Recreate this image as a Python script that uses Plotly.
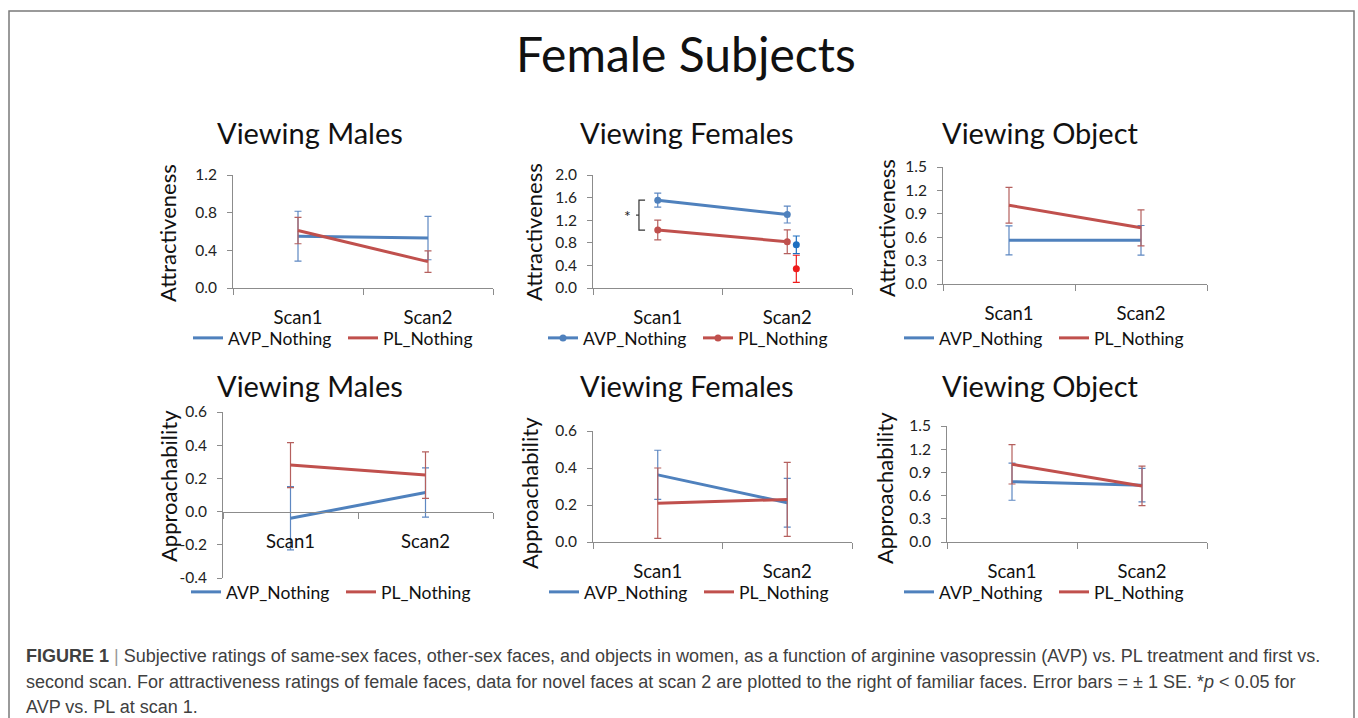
import plotly.graph_objects as go

W, H = 1358, 718

# ---------------- data ----------------
SCANS = ["Scan1", "Scan2"]
SERIES = ["AVP_Nothing", "PL_Nothing"]

# Attractiveness - viewing males
attr_males_avp = [0.55, 0.53]
attr_males_avp_se = [0.265, 0.23]
attr_males_pl = [0.61, 0.28]
attr_males_pl_se = [0.14, 0.115]

# Attractiveness - viewing females (familiar)
attr_fem_avp = [1.555, 1.30]
attr_fem_avp_se = [0.125, 0.15]
attr_fem_pl = [1.025, 0.82]
attr_fem_pl_se = [0.175, 0.21]
# novel faces at scan 2
attr_fem_novel_avp = [0.765]
attr_fem_novel_avp_se = [0.155]
attr_fem_novel_pl = [0.34]
attr_fem_novel_pl_se = [0.24]

# Attractiveness - viewing object
attr_obj_avp = [0.56, 0.56]
attr_obj_avp_se = [0.186, 0.19]
attr_obj_pl = [1.01, 0.72]
attr_obj_pl_se = [0.23, 0.23]

# Approachability - viewing males
appr_males_avp = [-0.04, 0.115]
appr_males_avp_se = [0.19, 0.148]
appr_males_pl = [0.28, 0.22]
appr_males_pl_se = [0.136, 0.14]

# Approachability - viewing females
appr_fem_avp = [0.363, 0.212]
appr_fem_avp_se = [0.133, 0.132]
appr_fem_pl = [0.21, 0.23]
appr_fem_pl_se = [0.19, 0.20]

# Approachability - viewing object
appr_obj_avp = [0.78, 0.735]
appr_obj_avp_se = [0.24, 0.216]
appr_obj_pl = [1.005, 0.725]
appr_obj_pl_se = [0.255, 0.255]

# y-axis tick values
ticks_attr_males = [0.0, 0.4, 0.8, 1.2]
ticks_attr_fem = [0.0, 0.4, 0.8, 1.2, 1.6, 2.0]
ticks_attr_obj = [0.0, 0.3, 0.6, 0.9, 1.2, 1.5]
ticks_appr_males = [-0.4, -0.2, 0.0, 0.2, 0.4, 0.6]
ticks_appr_fem = [0.0, 0.2, 0.4, 0.6]
ticks_appr_obj = [0.0, 0.3, 0.6, 0.9, 1.2, 1.5]

MAIN_TITLE = "Female Subjects"
CAPTION_LINES = [
    "<b>FIGURE 1</b> <span style='color:#999'>|</span> Subjective ratings of same-sex faces, other-sex faces, and objects in women, as a function of arginine vasopressin (AVP) vs. PL treatment and first vs.",
    "second scan. For attractiveness ratings of female faces, data for novel faces at scan 2 are plotted to the right of familiar faces. Error bars = ± 1 SE. *<i>p</i> &lt; 0.05 for",
    "AVP vs. PL at scan 1.",
]

# ---------------- style / layout ----------------
FONT = "Lato, 'Open Sans', sans-serif"
BLUE = "#4F81BD"
RED = "#C0504D"
BLUE_ERR = "#5E88C2"
RED_ERR = "#B5605E"
NOVEL_BLUE = "#1F6FC0"
NOVEL_RED = "#EE1C1C"
AXIS_GRAY = "#8C8C8C"
NOVEL_OFFSET = 0.07


def px_x(x):
    return x / W


def px_y(y):
    return 1 - y / H


panels = [
    dict(title="Viewing Males", ytitle="Attractiveness", x0=233, x1=493, yt=175, yb=288,
         ticks=ticks_attr_males, avp=attr_males_avp, avp_se=attr_males_avp_se,
         pl=attr_males_pl, pl_se=attr_males_pl_se, markers=False,
         tx=310, ty=133, ax=167, ay=233, lx=188, ly=338),
    dict(title="Viewing Females", ytitle="Attractiveness", x0=593, x1=852, yt=175, yb=288,
         ticks=ticks_attr_fem, avp=attr_fem_avp, avp_se=attr_fem_avp_se,
         pl=attr_fem_pl, pl_se=attr_fem_pl_se, markers=True,
         tx=687, ty=133, ax=533, ay=232, lx=543, ly=338),
    dict(title="Viewing Object", ytitle="Attractiveness", x0=943, x1=1207, yt=167, yb=284,
         ticks=ticks_attr_obj, avp=attr_obj_avp, avp_se=attr_obj_avp_se,
         pl=attr_obj_pl, pl_se=attr_obj_pl_se, markers=False,
         tx=1040, ty=133, ax=887, ay=228, lx=899, ly=338),
    dict(title="Viewing Males", ytitle="Approachability", x0=223, x1=493, yt=412, yb=578,
         ticks=ticks_appr_males, avp=appr_males_avp, avp_se=appr_males_avp_se,
         pl=appr_males_pl, pl_se=appr_males_pl_se, markers=False,
         tx=310, ty=385, ax=168, ay=486, lx=186, ly=592),
    dict(title="Viewing Females", ytitle="Approachability", x0=593, x1=852, yt=431, yb=542,
         ticks=ticks_appr_fem, avp=appr_fem_avp, avp_se=appr_fem_avp_se,
         pl=appr_fem_pl, pl_se=appr_fem_pl_se, markers=False,
         tx=687, ty=385, ax=530, ay=493, lx=544, ly=592),
    dict(title="Viewing Object", ytitle="Approachability", x0=947, x1=1207, yt=426, yb=542,
         ticks=ticks_appr_obj, avp=appr_obj_avp, avp_se=appr_obj_avp_se,
         pl=appr_obj_pl, pl_se=appr_obj_pl_se, markers=False,
         tx=1040, ty=385, ax=885, ay=488, lx=899, ly=592),
]

fig = go.Figure()
annotations = []
layout_axes = {}
xs = list(range(len(SCANS)))

for i, p in enumerate(panels, start=1):
    sfx = "" if i == 1 else str(i)
    xref, yref = f"x{sfx}", f"y{sfx}"
    leg = f"legend{sfx}"
    mode = "lines+markers" if p["markers"] else "lines"
    for name, vals, se, col, ecol in [
        (SERIES[0], p["avp"], p["avp_se"], BLUE, BLUE_ERR),
        (SERIES[1], p["pl"], p["pl_se"], RED, RED_ERR),
    ]:
        fig.add_trace(go.Scatter(
            x=xs, y=vals, mode=mode, name=name, xaxis=xref, yaxis=yref, legend=leg,
            line=dict(color=col, width=3), marker=dict(size=7, color=col),
            error_y=dict(type="data", array=se, visible=True, color=ecol, thickness=1.2, width=3.5),
            hoverinfo="skip",
        ))
    if i == 2:
        for vals, se, col in [
            (attr_fem_novel_avp, attr_fem_novel_avp_se, NOVEL_BLUE),
            (attr_fem_novel_pl, attr_fem_novel_pl_se, NOVEL_RED),
        ]:
            fig.add_trace(go.Scatter(
                x=[xs[1] + NOVEL_OFFSET], y=vals, mode="markers", showlegend=False,
                xaxis=xref, yaxis=yref, marker=dict(size=7, color=col),
                error_y=dict(type="data", array=se, visible=True, color=col, thickness=1.2, width=3.5),
                hoverinfo="skip",
            ))

    r0, r1 = p["ticks"][0], p["ticks"][-1]
    dom_y = [px_y(p["yb"]), px_y(p["yt"])]
    xa = dict(
        domain=[px_x(p["x0"]), px_x(p["x1"])], range=[-0.5, len(SCANS) - 0.5],
        tickmode="array", tickvals=xs, ticktext=SCANS, ticks="",
        showline=True, linecolor=AXIS_GRAY, linewidth=1,
        showgrid=False, zeroline=False, fixedrange=True, automargin=False,
        tickfont=dict(family=FONT, size=18.5, color="#111"), ticklabelstandoff=13,
        minor=dict(tickmode="array", tickvals=[-0.5, 0.5, 1.5], ticks="outside",
                   ticklen=6, tickcolor=AXIS_GRAY, tickwidth=1),
        anchor=yref,
    )
    if r0 < 0:
        f = (0 - r0) / (r1 - r0)
        xa["anchor"] = "free"
        xa["position"] = dom_y[0] + f * (dom_y[1] - dom_y[0])
    ya = dict(
        domain=dom_y, range=[r0, r1], tickmode="array", tickvals=p["ticks"],
        ticktext=[f"{v:.1f}" for v in p["ticks"]], ticks="outside", ticklen=5,
        tickcolor=AXIS_GRAY, showline=True, linecolor=AXIS_GRAY, linewidth=1,
        showgrid=False, zeroline=False, fixedrange=True, automargin=False,
        tickfont=dict(family=FONT, size=15.5, color="#222"), ticklabelstandoff=7,
        anchor=xref,
    )
    layout_axes[f"xaxis{sfx}"] = xa
    layout_axes[f"yaxis{sfx}"] = ya
    layout_axes[leg] = dict(
        x=px_x(p["lx"]), y=px_y(p["ly"]), xanchor="left", yanchor="middle",
        orientation="h", font=dict(family=FONT, size=17.5, color="#111"),
        bgcolor="rgba(0,0,0,0)", entrywidth=110, itemclick=False, itemdoubleclick=False,
    )
    annotations.append(dict(
        text=p["title"], x=px_x(p["tx"]), y=px_y(p["ty"]), xref="paper", yref="paper",
        showarrow=False, font=dict(family=FONT, size=29, color="#111"),
        xanchor="center", yanchor="middle"))
    annotations.append(dict(
        text=p["ytitle"], x=px_x(p["ax"]), y=px_y(p["ay"]), xref="paper", yref="paper",
        showarrow=False, textangle=-90, font=dict(family=FONT, size=22, color="#111"),
        xanchor="center", yanchor="middle"))

# significance bracket in "Viewing Females" attractiveness
y_hi, y_lo = attr_fem_avp[0], attr_fem_pl[0]
y_mid = (y_hi + y_lo) / 2
bx, arm, tick = -0.145, -0.098, -0.168
shapes = [
    dict(type="path", xref="x2", yref="y2",
         path=f"M {arm},{y_hi} L {bx},{y_hi} L {bx},{y_lo} L {arm},{y_lo}",
         line=dict(color="#333", width=1.2)),
    dict(type="line", xref="x2", yref="y2", x0=tick, x1=bx, y0=y_mid, y1=y_mid,
         line=dict(color="#333", width=1.2)),
    # figure frame
    dict(type="rect", xref="paper", yref="paper", x0=px_x(9), x1=px_x(1354),
         y0=px_y(740), y1=px_y(11), line=dict(color="#7a7a7a", width=1.5)),
]
annotations.append(dict(text="*", x=-0.23, y=y_mid, xref="x2", yref="y2", showarrow=False,
                        font=dict(family=FONT, size=16, color="#222"), yanchor="middle"))

annotations.append(dict(text=MAIN_TITLE, x=px_x(686), y=px_y(54), xref="paper", yref="paper",
                        showarrow=False, font=dict(family=FONT, size=48, color="#111"),
                        xanchor="center", yanchor="middle"))

for k, (line, yy) in enumerate(zip(CAPTION_LINES, [656, 682, 707])):
    annotations.append(dict(text=line, x=px_x(24), y=px_y(yy), xref="paper", yref="paper",
                            showarrow=False, align="left", xanchor="left", yanchor="middle",
                            font=dict(family="'Liberation Sans', Arial, sans-serif", size=18,
                                      color="#404040")))

fig.update_layout(
    width=W, height=H, autosize=False,
    margin=dict(l=0, r=0, t=0, b=0, pad=0, autoexpand=False),
    paper_bgcolor="white", plot_bgcolor="white",
    annotations=annotations, shapes=shapes,
    **layout_axes,
)

fig.write_html(
    "out.html",
    config={"displayModeBar": False},
    post_script="document.body.style.margin='0';document.body.style.overflow='hidden';",
)
